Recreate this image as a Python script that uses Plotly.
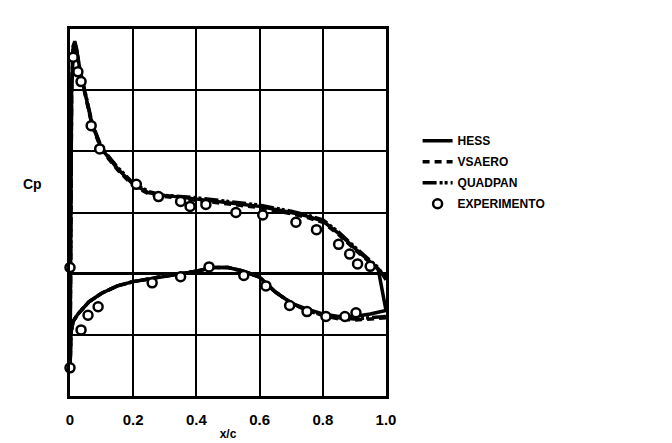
import plotly.graph_objects as go

# ---------------- data ----------------
x_ticks = [0, 0.2, 0.4, 0.6, 0.8, 1.0]
x_tick_labels = ["0", "0.2", "0.4", "0.6", "0.8", "1.0"]

# upper surface (suction side), chordwise stations
x_upper = [0, 0.002, 0.005, 0.01, 0.015, 0.02, 0.03, 0.05, 0.07, 0.1, 0.15, 0.2,
           0.25, 0.3, 0.4, 0.5, 0.6, 0.7, 0.75, 0.8, 0.85, 0.9, 0.95, 0.975, 1.0]
hess_cp_upper = [0.8, -0.6, -1.5, -1.85, -1.9, -1.85, -1.69, -1.45, -1.22, -1.02, -0.86, -0.73,
                 -0.66, -0.64, -0.61, -0.58, -0.55, -0.50, -0.47, -0.43, -0.33, -0.21, -0.10, -0.04, 0.30]
vsaero_cp_upper = [0.8, -0.6, -1.5, -1.84, -1.88, -1.83, -1.67, -1.44, -1.21, -1.01, -0.85, -0.72,
                   -0.65, -0.63, -0.60, -0.57, -0.54, -0.49, -0.46, -0.42, -0.32, -0.20, -0.09, -0.03, 0.02]
quadpan_cp_upper = [0.8, -0.6, -1.5, -1.86, -1.89, -1.84, -1.68, -1.46, -1.23, -1.03, -0.87, -0.74,
                    -0.67, -0.64, -0.62, -0.59, -0.56, -0.51, -0.48, -0.44, -0.34, -0.22, -0.11, -0.05, 0.05]

# lower surface (pressure side)
x_lower = [0, 0.003, 0.01, 0.025, 0.06, 0.1, 0.15, 0.2, 0.3, 0.4, 0.45, 0.5,
           0.55, 0.6, 0.65, 0.7, 0.75, 0.8, 0.85, 0.9, 0.95, 1.0]
hess_cp_lower = [0.8, 0.48, 0.39, 0.33, 0.23, 0.16, 0.10, 0.065, 0.02, -0.02, -0.05, -0.05,
                 -0.02, 0.03, 0.15, 0.24, 0.29, 0.33, 0.35, 0.35, 0.33, 0.30]
vsaero_cp_lower = [0.8, 0.48, 0.39, 0.33, 0.23, 0.16, 0.10, 0.065, 0.02, -0.02, -0.05, -0.05,
                   -0.02, 0.03, 0.15, 0.24, 0.30, 0.34, 0.37, 0.38, 0.37, 0.36]
quadpan_cp_lower = [0.8, 0.48, 0.39, 0.33, 0.23, 0.16, 0.10, 0.065, 0.02, -0.02, -0.05, -0.05,
                    -0.02, 0.03, 0.15, 0.24, 0.30, 0.34, 0.36, 0.37, 0.36, 0.35]

# experiment
exp_x = [0.019, 0.01, 0.025, 0.035, 0.067, 0.094, 0.21, 0.28, 0.35, 0.38, 0.43, 0.525, 0.61,
         0.715, 0.78, 0.85, 0.885, 0.91, 0.95,
         0.0, 0.0, 0.035, 0.057, 0.089, 0.26, 0.35, 0.44, 0.55, 0.62, 0.695, 0.75, 0.81, 0.87, 0.905]
exp_cp = [-2.02, -1.77, -1.65, -1.57, -1.21, -1.02, -0.73, -0.63, -0.59, -0.55, -0.565, -0.50, -0.48,
          -0.42, -0.36, -0.24, -0.16, -0.08, -0.06,
          -0.05, 0.77, 0.46, 0.34, 0.27, 0.075, 0.025, -0.055, 0.015, 0.10, 0.26, 0.31, 0.35, 0.35, 0.32]

# ---------------- figure ----------------
def loop(xl, cl, xu, cu):
    return list(reversed(xl)) + list(xu[1:]), list(reversed(cl)) + list(cu[1:])

fig = go.Figure()
methods = [
    ("HESS", hess_cp_lower, hess_cp_upper, "solid"),
    ("VSAERO", vsaero_cp_lower, vsaero_cp_upper, "7px,5px"),
    ("QUADPAN", quadpan_cp_lower, quadpan_cp_upper, "14px,3px,3px,2px,3px,3px"),
]
for name, cl, cu, dash in methods:
    xs, cs = loop(x_lower, cl, x_upper, cu)
    fig.add_trace(go.Scatter(x=xs, y=cs, mode="lines", name=name, legendgroup=name,
                             line=dict(color="black", width=3.5, dash=dash)))

fig.add_trace(go.Scatter(x=exp_x, y=exp_cp, mode="markers", name="EXPERIMENTO",
                         legendgroup="EXPERIMENTO", cliponaxis=False,
                         marker=dict(symbol="circle", size=9, color="white",
                                     line=dict(color="black", width=2.5))))

font_family = "Liberation Sans, Arial, sans-serif"
fig.update_layout(
    width=672, height=443,
    margin=dict(l=62, r=294, t=21, b=50),
    paper_bgcolor="white", plot_bgcolor="white",
    font=dict(family=font_family, color="black", size=12),
    showlegend=True,
    legend=dict(x=1.10, y=0.735, xanchor="left", yanchor="top",
                font=dict(size=12, family=font_family, weight="bold"),
                bgcolor="rgba(0,0,0,0)", tracegroupgap=2),
    xaxis=dict(range=[0, 1.0], tickvals=x_ticks, ticktext=x_tick_labels,
               showgrid=True, gridcolor="black", gridwidth=2,
               showline=True, linecolor="black", linewidth=3, mirror=True,
               zeroline=False, ticks="", ticklabelstandoff=8,
               tickfont=dict(size=15, weight="bold"),
               title=dict(text="x/c", font=dict(size=12, weight="bold"), standoff=3)),
    yaxis=dict(range=[1.0, -2.0], dtick=0.5, showticklabels=False,
               showgrid=True, gridcolor="black", gridwidth=2,
               showline=True, linecolor="black", linewidth=3, mirror=True,
               zeroline=True, zerolinecolor="black", zerolinewidth=3, ticks=""),
    annotations=[dict(text="Cp", x=-0.12, y=0.578, xref="paper", yref="paper",
                      xanchor="center", yanchor="middle",
                      showarrow=False, font=dict(size=14, weight="bold"))],
)

fig.write_html("out.html")
